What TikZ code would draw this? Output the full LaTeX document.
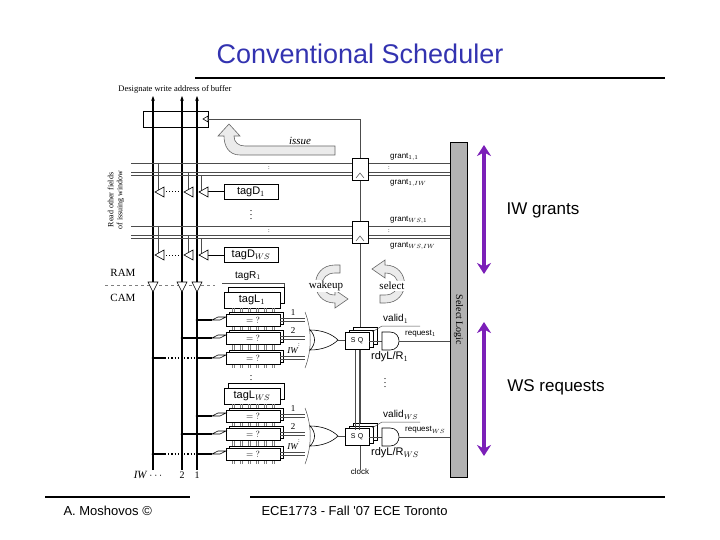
\documentclass[tikz,border=0pt]{standalone}
\usepackage{fontspec}
\setmainfont{Liberation Serif}
\newfontfamily\sans{Liberation Sans}
\usetikzlibrary{arrows.meta,calc}
\definecolor{ttl}{HTML}{3333B0}
\definecolor{purp}{HTML}{7B1FB8}
\begin{document}
\begin{tikzpicture}[x=1pt,y=-1pt,
  thin/.style={line width=0.5pt,black!70},
  bus/.style={line width=1.8pt},
  box/.style={draw,fill=white,line width=0.6pt},
  sm/.style={font=\sans\fontsize{10}{11}\selectfont,inner sep=0pt},
  sr/.style={font=\fontsize{10}{11}\selectfont,inner sep=0pt},
  tri/.style={draw,fill=white,line width=0.6pt},
  garrow/.style={fill=black!8,draw=black!60,line width=0.6pt},
  pa/.style={purp,line width=3.5pt,{Stealth[length=11pt,width=14pt]}-{Stealth[length=11pt,width=14pt]}}]
\useasboundingbox (0,0) rectangle (720,540);
% title and rules
\node[font=\sans\fontsize{27}{30}\selectfont,text=ttl] (title) at (360,54) {Conventional Scheduler};
\draw[line width=2.5pt] (195,78) -- (665,78);
\draw[line width=2pt] (45,497) -- (190,497);
\draw[line width=2pt] (250,497) -- (665,497);
\node[font=\sans\fontsize{13}{15}\selectfont,anchor=west] (auth) at (60,511) {A. Moshovos ©};
\node[font=\sans\fontsize{13}{15}\selectfont,anchor=west] (course) at (258,511) {ECE1773 - Fall '07 ECE Toronto};
% purple arrows
\coordinate (g1) at (484,145); \coordinate (g2) at (484,274);
\coordinate (r1) at (484,322); \coordinate (r2) at (484,456);
\draw[pa] (g1) -- (g2);
\draw[pa] (r1) -- (r2);
\node[font=\sans\fontsize{17}{19}\selectfont] (iwg) at (543,210) {IW grants};
\node[font=\sans\fontsize{17}{19}\selectfont] (wsr) at (556,387) {WS requests};
% top text
\node[sr,font=\fontsize{8.5}{10}\selectfont] (desig) at (175,89) {Designate write address of buffer};
% buffer box
\node[box,minimum width=65pt,minimum height=16pt,inner sep=0pt] (buf) at (175.5,119) {};
% buses
\foreach \x in {153,182,197}{
  \draw[bus,-{Stealth[length=5pt]}] (\x,470) -- (\x,96);
}
\node[sr,font=\itshape\fontsize{11}{12}\selectfont] (iwl) at (148,475) {IW $\cdots$};
\node[sr] (l2) at (182,475) {2};
\node[sr] (l1) at (197,475) {1};
% clock line
\draw[thin] (buf.east) -- (360,119) -- (360,470);
\draw[tri] (203,119) -- (208,116) -- (208,122) -- cycle;
\node[sm,font=\sans\fontsize{8}{9}\selectfont] (clk) at (360,472) {clock};
% issue arrow
\draw[garrow] (335,155) -- (240,155) .. controls (228,155) and (224,145) .. (224,136) -- (218,136) -- (229,124) -- (240,136) -- (234,136) .. controls (234,142) and (238,146) .. (245,146) -- (335,146) -- cycle;
\node[sr,font=\itshape\fontsize{11}{12}\selectfont] (iss) at (300,141) {issue};
% read other fields
\node[sr,rotate=90,align=center,font=\fontsize{8}{9}\selectfont] (rof) at (116,200) {Read other fields\\of issuing window};
% grant line groups
\foreach \gy/\td/\ga/\gb in {163/tagD$_1$/grant$_{1,1}$/grant$_{1,IW}$, 226/tagD$_{WS}$/grant$_{WS,1}$/grant$_{WS,IW}$}{
  \draw[thin] (131,\gy) -- (450,\gy);
  \draw[thin] (131,\gy+9) -- (450,\gy+9);
  \draw[thin] (131,\gy+12) -- (450,\gy+12);
  \node[sr,font=\fontsize{6}{6}\selectfont] at (269,\gy+5) {:};
  \node[sr,font=\fontsize{6}{6}\selectfont] at (389,\gy+5) {:};
  \node[box,minimum width=16pt,minimum height=22pt,inner sep=0pt] at (360,\gy+6) {};
  \draw[thin] (356,\gy+15) -- (360,\gy+10) -- (364,\gy+15);
  \node[sm,font=\sans\fontsize{8}{9}\selectfont,anchor=west] at (390,\gy-6) {\ga};
  \node[sm,font=\sans\fontsize{8}{9}\selectfont,anchor=west] at (390,\gy+20) {\gb};
  \node[box,minimum width=54pt,minimum height=15pt,inner sep=0pt,font=\sans\fontsize{11}{12}\selectfont] at (251,\gy+29) {\td};
  \draw[line width=1pt] (199,\gy+29) -- (224,\gy+29);
  \draw[thin] (158,\gy) -- (158,\gy+29);
  \draw[thin] (188,\gy+9) -- (188,\gy+29);
  \draw[thin] (201,\gy+12) -- (201,\gy+29);
  \draw[line width=1pt,dotted] (160,\gy+29) -- (182,\gy+29);
  \foreach \x in {155,184,199}{
    \draw[tri] (\x,\gy+29) -- (\x+9,\gy+24) -- (\x+9,\gy+34) -- cycle;}
}
\node[sr] at (251,212) {$\vdots$};
% RAM/CAM
\node[sr,font=\fontsize{11}{12}\selectfont] (ram) at (123,273) {RAM};
\node[sr,font=\fontsize{11}{12}\selectfont] (cam) at (123,298) {CAM};
\draw[dashed,black!50] (105,285) -- (215,285);
\foreach \x in {153,182,197}{
  \draw[tri] (\x-5,282) -- (\x+5,282) -- (\x,292) -- cycle;}
\node[sm,font=\sans\fontsize{10}{11}\selectfont] (tagr) at (248,276) {tagR$_1$};
\draw[thin] (222,283) -- (284,283) -- (284,302);
% wakeup / select
\draw[garrow] (340,265) -- (335,265) .. controls (309,265) and (309,303) .. (335,303) -- (335,308) -- (348,299) -- (335,290) -- (335,295) .. controls (318,295) and (318,273) .. (335,273) -- (340,273) -- cycle;
\draw[garrow] (380,303) -- (385,303) .. controls (411,303) and (411,265) .. (385,265) -- (385,260) -- (372,269) -- (385,278) -- (385,273) .. controls (402,273) and (402,295) .. (385,295) -- (380,295) -- cycle;
\node[sr,font=\fontsize{11}{12}\selectfont,fill=white,inner sep=1pt] (wk) at (326,286) {wakeup};
\node[sr,font=\fontsize{11}{12}\selectfont,fill=white,inner sep=1pt] (sel) at (392,286) {select};
% select logic bar
\node[draw,fill=black!30,line width=1pt,minimum width=17pt,minimum height=334pt,inner sep=0pt] (slog) at (458.5,310) {};
\node[sr,rotate=-90,font=\fontsize{10}{11}\selectfont] at (458.5,320) {Select Logic};
% CAM blocks
\foreach \oy/\tl/\vl/\rq/\rd in {0/tagL$_1$/valid$_1$/request$_1$/{rdyL/R$_1$}, 96/tagL$_{WS}$/valid$_{WS}$/request$_{WS}$/{rdyL/R$_{WS}$}}{
  \begin{scope}[yshift=-\oy pt]
  \draw[box] (228,287) rectangle (284,303);
  \node[box,minimum width=56pt,minimum height=16pt,inner sep=0pt,font=\sans\fontsize{11}{12}\selectfont] at (252,300) {\tl};
  \foreach \x in {232,240,248,256,264,272}{\draw[black!50] (\x,308) -- (\x,368);\draw[black!50] (\x+2,308) -- (\x+2,368);}
  \foreach \ry/\bx/\lb/\dd in {320/197/1/0,338/182/2/0,358/153/\textit{IW}/1}{
    \draw[box] (229,\ry-8) rectangle (283,\ry+4);
    \node[box,minimum width=54pt,minimum height=12pt,inner sep=0pt,font=\fontsize{9}{10}\selectfont] at (253,\ry) {$=\ ?$};
    \ifnum\dd=1
      \draw[line width=1.2pt] (\bx,\ry) -- (165,\ry);
      \draw[line width=1.2pt,dotted] (165,\ry) -- (197,\ry);
      \draw[line width=1.2pt] (197,\ry) -- (212,\ry);
    \else
      \draw[line width=1.2pt] (\bx,\ry) -- (212,\ry);
    \fi
    \fill (\bx,\ry) circle (1.5pt);
    \draw[box] (212,\ry) -- (218,\ry-3) -- (226,\ry-3) -- (220,\ry) -- cycle;
    \draw[thin] (280,\ry-2) -- (305,\ry-2);
    \draw[thin] (280,\ry+1) -- (305,\ry+1);
    \node[sr,font=\fontsize{9}{10}\selectfont] at (293,\ry-7) {\lb};
  }
  \node[sr,font=\fontsize{6}{6}\selectfont] at (299,345) {:};
  \draw[thin] (305,312) .. controls (312,330) and (312,350) .. (305,368);
  % OR gate
  \draw[box] (310,330) .. controls (316,336) and (316,344) .. (310,350) .. controls (322,350) and (332,346) .. (338,340) .. controls (332,334) and (322,330) .. (310,330) -- cycle;
  \draw[thin] (338,340) -- (348,340);
  % flip flop stack
  \draw[box] (353,327) rectangle (377,344);
  \draw[box] (349,330) rectangle (373,347);
  \node[box,minimum width=24pt,minimum height=17pt,inner sep=0pt,font=\sans\fontsize{7}{8}\selectfont] at (357,341) {S\,\,Q};
  \draw[thin] (369,341) -- (382,341);
  % AND gate
  \draw[box] (382,332) -- (390,332) .. controls (402,332) and (402,350) .. (390,350) -- (382,350) -- cycle;
  \draw[thin] (399,341) -- (450,341);
  \draw[thin] (372,332) -- (382,326) -- (420,326);
  \node[sm,anchor=west] at (383,319) {\vl};
  \node[sm,anchor=west,font=\sans\fontsize{8}{9}\selectfont] at (405,334) {\rq};
  \node[sm,anchor=west,font=\sans\fontsize{11}{12}\selectfont] at (371,357) {\rd};
  \end{scope}
}
\node[sr] at (251,377) {$\vdots$};
\node[sr] at (385,380) {$\vdots$};
\draw[thin] (355,350) -- (355,430);
\draw[thin] (359,350) -- (359,430);
\end{tikzpicture}
\end{document}
